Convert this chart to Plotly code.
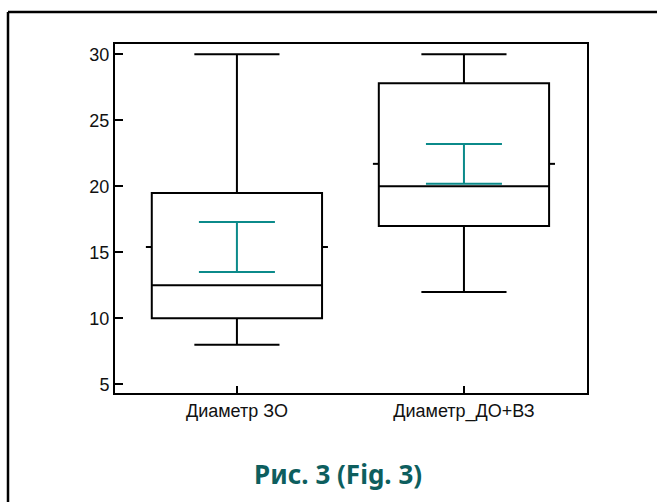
import plotly.graph_objects as go

# ---- data ----
categories = ["Диаметр ЗО", "Диаметр_ДО+ВЗ"]
lower_whisker = [8, 12]
q1_values = [10, 17]
median_values = [12.5, 20]
q3_values = [19.5, 27.8]
upper_whisker = [30, 30]
mean_values = [15.4, 21.7]
ci_half_width = [1.9, 1.5]
y_tick_values = [5, 10, 15, 20, 25, 30]
title_text = "Рис. 3 (Fig. 3)"

# ---- style constants ----
BOX_WIDTH = 0.75
MEAN_TICK = 0.026
TEAL = "#0b8a8a"
TITLE_COLOR = "#0d5e5e"
FONT = "Liberation Sans, Arial, sans-serif"

xpos = list(range(len(categories)))

fig = go.Figure()

fig.add_trace(go.Box(
    x=xpos,
    q1=q1_values,
    median=median_values,
    q3=q3_values,
    lowerfence=lower_whisker,
    upperfence=upper_whisker,
    width=BOX_WIDTH,
    whiskerwidth=0.5,
    boxpoints=False,
    fillcolor="rgba(0,0,0,0)",
    line=dict(color="black", width=2),
    hoverinfo="skip",
))

# mean ticks on box sides
mx, my = [], []
for i, m in zip(xpos, mean_values):
    hw = BOX_WIDTH / 2
    mx += [i - hw - MEAN_TICK, i - hw, None, i + hw, i + hw + MEAN_TICK, None]
    my += [m, m, None, m, m, None]
fig.add_trace(go.Scatter(
    x=mx, y=my, mode="lines",
    line=dict(color="black", width=2),
    hoverinfo="skip",
))

# confidence interval for the mean
fig.add_trace(go.Scatter(
    x=xpos, y=mean_values, mode="markers",
    marker=dict(size=0.1, color="rgba(0,0,0,0)"),
    error_y=dict(type="data", array=ci_half_width, symmetric=True,
                 color=TEAL, thickness=2, width=38),
    hoverinfo="skip",
))

L, R, T, B = 115, 70, 44, 109
W, H = 657, 502
pw, ph = W - L - R, H - T - B

def px_x(p):
    return (p - L) / pw

def px_y(p):
    return (H - B - p) / ph

fig.update_layout(
    width=W, height=H,
    margin=dict(l=L, r=R, t=T, b=B, pad=0),
    paper_bgcolor="white", plot_bgcolor="white",
    showlegend=False,
    font=dict(family=FONT, size=18, color="#111111"),
    xaxis=dict(
        range=[-0.537, 1.542],
        tickmode="array", tickvals=xpos, ticktext=categories,
        ticks="inside", ticklen=7, tickwidth=1.5, tickcolor="black",
        showline=True, linecolor="black", linewidth=2, mirror=True,
        showgrid=False, zeroline=False,
        tickfont=dict(family=FONT, size=18, color="#111111"),
    ),
    yaxis=dict(
        range=[4.34, 30.78],
        tickmode="array", tickvals=y_tick_values,
        ticks="inside", ticklen=8, tickwidth=1.5, tickcolor="black",
        showline=True, linecolor="black", linewidth=2, mirror=True,
        showgrid=False, zeroline=False,
        tickfont=dict(family=FONT, size=18, color="#111111"),
    ),
    shapes=[
        dict(type="line", xref="paper", yref="paper",
             x0=px_x(8), x1=px_x(W + 2), y0=px_y(12), y1=px_y(12),
             line=dict(color="black", width=2.5)),
        dict(type="line", xref="paper", yref="paper",
             x0=px_x(8), x1=px_x(8), y0=px_y(12), y1=px_y(H + 2),
             line=dict(color="black", width=2.5)),
    ],
    annotations=[
        dict(text="<b>" + title_text + "</b>", xref="paper", yref="paper",
             x=px_x(338), y=px_y(474), xanchor="center", yanchor="middle",
             showarrow=False,
             font=dict(family="Noto Sans, Lato, sans-serif", size=26, color=TITLE_COLOR)),
    ],
)

fig.write_html("out.html")
